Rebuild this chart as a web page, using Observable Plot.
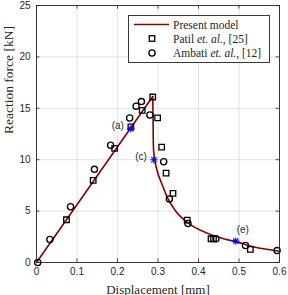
<!DOCTYPE html>
<html>
<head>
<meta charset="utf-8">
<script src="https://cdn.jsdelivr.net/npm/d3@7"></script>
<script src="https://cdn.jsdelivr.net/npm/@observablehq/plot@0.6"></script>
<style>
  html, body { margin: 0; padding: 0; background: #fff; }
  #wrap { position: relative; width: 288px; height: 295px; }
  #legend { position: absolute; left: 128px; top: 15px; }
</style>
</head>
<body>
<div id="wrap"></div>
<script>
// ---- data ----
const modelX = [0, 0.287, 0.2878, 0.2883, 0.289, 0.292, 0.298, 0.31, 0.323, 0.343, 0.372, 0.41, 0.454, 0.496, 0.537, 0.6];
const modelY = [0, 16.15, 14.0, 12.0, 11.0, 10.0, 8.9, 7.6, 6.33, 5.03, 3.9, 3.05, 2.4, 1.98, 1.5, 1.1];

const patilX = [0.074, 0.140, 0.193, 0.233, 0.261, 0.287, 0.299, 0.309, 0.320, 0.337, 0.372, 0.431, 0.437, 0.528];
const patilY = [4.16, 7.99, 11.1, 13.2, 14.8, 16.1, 14.06, 11.23, 8.7, 6.72, 4.13, 2.31, 2.31, 1.28];

const ambatiX = [0.003, 0.033, 0.084, 0.143, 0.183, 0.230, 0.246, 0.259, 0.280, 0.314, 0.328, 0.374, 0.443, 0.516, 0.594];
const ambatiY = [0, 2.24, 5.42, 9.06, 11.4, 14.06, 15.2, 15.65, 14.35, 9.8, 6.17, 3.8, 2.31, 1.65, 1.16];

const starX = [0.233, 0.290, 0.492];
const starY = [13.0, 10.0, 2.08];
const starLabels = ["(a)", "(c)", "(e)"];

const xTicks = [0, 0.1, 0.2, 0.3, 0.4, 0.5, 0.6];
const yTicks = [0, 5, 10, 15, 20, 25];
const xLabel = "Displacement [mm]";
const yLabel = "Reaction force [kN]";
const legendLabels = ["Present model", "Patil", "Ambati"];
const legendRefs = ["", "[25]", "[12]"];

// ---- tables ----
const model = modelX.map((x, i) => ({x, y: modelY[i]}));
const rising = model.slice(0, 2);
const falling = model.slice(1);
const patil = patilX.map((x, i) => ({x, y: patilY[i]}));
const ambati = ambatiX.map((x, i) => ({x, y: ambatiY[i]}));
const stars = starX.map((x, i) => ({x, y: starY[i], label: starLabels[i]}));

const axisColor = "#262626";
const lineColor = "#880000";
const sans = "Liberation Sans, Arial, sans-serif";
const serif = "Liberation Serif, Times New Roman, serif";
const tickLenY = 0.35;   // inward tick length in kN
const tickLenX = 0.0085; // inward tick length in mm

const chart = Plot.plot({
  width: 288,
  height: 295,
  marginLeft: 36,
  marginRight: 9,
  marginTop: 5,
  marginBottom: 33,
  style: {fontFamily: sans, background: "#fff", overflow: "visible"},
  x: {domain: [0, 0.6]},
  y: {domain: [0, 25]},
  marks: [
    Plot.gridX(xTicks, {stroke: axisColor, strokeOpacity: 0.13}),
    Plot.gridY(yTicks, {stroke: axisColor, strokeOpacity: 0.13}),
    // inward ticks on all four sides
    Plot.ruleX(xTicks, {x: d => d, y1: 0, y2: tickLenY, stroke: axisColor, strokeWidth: 0.8}),
    Plot.ruleX(xTicks, {x: d => d, y1: 25, y2: 25 - tickLenY, stroke: axisColor, strokeWidth: 0.8}),
    Plot.ruleY(yTicks, {y: d => d, x1: 0, x2: tickLenX, stroke: axisColor, strokeWidth: 0.8}),
    Plot.ruleY(yTicks, {y: d => d, x1: 0.6, x2: 0.6 - tickLenX, stroke: axisColor, strokeWidth: 0.8}),
    Plot.axisX(xTicks, {tickSize: 0, tickPadding: 5, fontSize: 10, fill: axisColor, label: null, tickFormat: d => d === 0 ? "0" : d3.format(".1f")(d)}),
    Plot.axisY(yTicks, {tickSize: 0, tickPadding: 6, fontSize: 10, fill: axisColor, label: null}),
    Plot.text([xLabel], {frameAnchor: "bottom", lineAnchor: "bottom", dy: 31, fontFamily: serif, fontSize: 13, fill: axisColor}),
    Plot.text([yLabel], {frameAnchor: "left", dx: -28, rotate: -90, fontFamily: serif, fontSize: 13.5, fill: axisColor}),
    Plot.line(rising, {x: "x", y: "y", stroke: lineColor, strokeWidth: 1.6}),
    Plot.line(falling, {x: "x", y: "y", stroke: lineColor, strokeWidth: 1.6, curve: "monotone-x"}),
    Plot.dot(patil, {x: "x", y: "y", symbol: "square", r: 3.1, fill: "none", stroke: "#000", strokeWidth: 1.3}),
    Plot.dot(ambati, {x: "x", y: "y", symbol: "circle", r: 3.1, fill: "none", stroke: "#000", strokeWidth: 1.3}),
    Plot.dot(stars, {x: "x", y: "y", symbol: "plus", r: 2.5, stroke: "#0000ff", strokeWidth: 1.1}),
    Plot.dot(stars, {x: "x", y: "y", symbol: "times", r: 2.5, stroke: "#0000ff", strokeWidth: 1.1}),
    Plot.text(stars.slice(0, 2), {x: "x", y: "y", text: "label", textAnchor: "end", dx: -7, dy: -3, fontSize: 10, fill: axisColor}),
    Plot.text(stars.slice(2), {x: "x", y: "y", text: "label", dx: 7, dy: -11, fontSize: 10, fill: axisColor}),
    Plot.frame({stroke: axisColor, strokeWidth: 0.9})
  ]
});

const wrap = document.getElementById("wrap");
wrap.appendChild(chart);

// ---- legend (overlay) ----
const lw = 141, lh = 47;
const leg = d3.select(wrap).append("svg")
  .attr("id", "legend")
  .attr("width", lw + 1).attr("height", lh + 1);
leg.append("rect").attr("x", 0.5).attr("y", 0.5).attr("width", lw).attr("height", lh)
  .attr("fill", "#fff").attr("stroke", axisColor).attr("stroke-width", 0.9);
const rowY = [9.5, 23.5, 38];
// line sample
leg.append("line").attr("x1", 6).attr("x2", 41).attr("y1", rowY[0]).attr("y2", rowY[0])
  .attr("stroke", lineColor).attr("stroke-width", 1.6);
// square sample
const sq = 5.5;
leg.append("rect").attr("x", 24 - sq / 2).attr("y", rowY[1] - sq / 2).attr("width", sq).attr("height", sq)
  .attr("fill", "none").attr("stroke", "#000").attr("stroke-width", 1.3);
// circle sample
leg.append("circle").attr("cx", 24).attr("cy", rowY[2]).attr("r", 3.1)
  .attr("fill", "none").attr("stroke", "#000").attr("stroke-width", 1.3);
legendLabels.forEach((lab, i) => {
  const t = leg.append("text").attr("x", 45).attr("y", rowY[i]).attr("dy", "0.35em")
    .attr("font-family", serif).attr("font-size", 11.5).attr("fill", axisColor);
  t.append("tspan").text(lab);
  if (i > 0) {
    t.append("tspan").text(" et. al.").attr("font-style", "italic");
    t.append("tspan").text(", " + legendRefs[i]);
  }
});
</script>
</body>
</html>
